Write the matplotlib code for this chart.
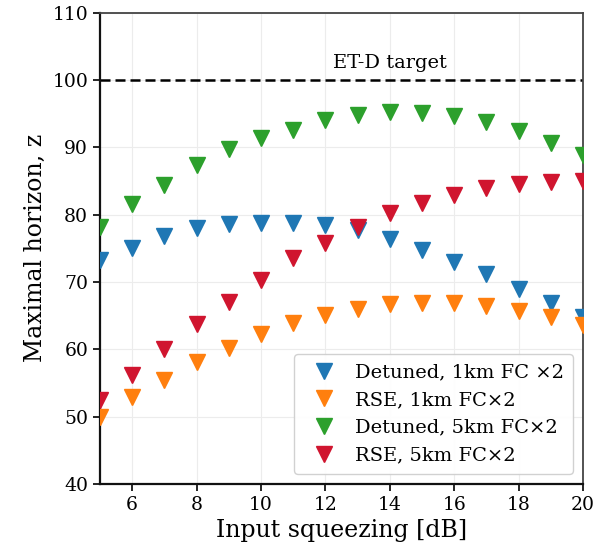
import matplotlib.pyplot as plt

plt.rcParams["font.family"] = ["DejaVu Serif"]

squeezing = list(range(5, 21))
detuned_1km = [73.2, 75.1, 76.9, 78.0, 78.6, 78.8, 78.8, 78.4, 77.7, 76.4, 74.8, 73.0, 71.2, 68.9, 66.9, 64.8]
rse_1km = [50.0, 52.9, 55.5, 58.1, 60.2, 62.3, 63.9, 65.1, 66.0, 66.7, 66.9, 66.9, 66.4, 65.7, 64.8, 63.6]
detuned_5km = [78.2, 81.6, 84.4, 87.4, 89.7, 91.4, 92.6, 94.0, 94.8, 95.2, 95.1, 94.6, 93.7, 92.4, 90.7, 88.8]
rse_5km = [52.5, 56.2, 60.1, 63.8, 67.1, 70.3, 73.5, 75.8, 78.2, 80.2, 81.7, 82.9, 84.0, 84.5, 84.9, 85.0]

series = [
    ("Detuned, 1km FC \u00d72", detuned_1km, "#1f77b4"),
    ("RSE, 1km FC\u00d72", rse_1km, "#ff7f0e"),
    ("Detuned, 5km FC\u00d72", detuned_5km, "#2ca02c"),
    ("RSE, 5km FC\u00d72", rse_5km, "#d0152f"),
]

target = 100

fig = plt.figure(figsize=(5.95, 5.5), dpi=100)
ax = fig.add_axes([0.168, 0.12, 0.812, 0.857])

for label, vals, col in series:
    ax.plot(squeezing, vals, linestyle="none", marker="v", markersize=12,
            color=col, label=label, zorder=3)

ax.axhline(target, color="black", linestyle=(0, (4, 2)), linewidth=1.8, zorder=2)
ax.text(14, 101.2, "ET-D target", ha="center", va="bottom", fontsize=14)

ax.set_xlim(5, 20)
ax.set_ylim(40, 110)
ax.set_xticks(range(6, 21, 2))
ax.set_yticks(range(40, 111, 10))
ax.tick_params(labelsize=13.5, length=5, width=1.2)
ax.grid(True, color="#ececec", linewidth=0.8, zorder=0)
ax.set_axisbelow(True)

ax.set_xlabel("Input squeezing [dB]", fontsize=17)
ax.set_ylabel("Maximal horizon, z", fontsize=17)

for side in ["left", "bottom"]:
    ax.spines[side].set_color("#111")
    ax.spines[side].set_linewidth(1.6)
for side in ["top", "right"]:
    ax.spines[side].set_color("#444")
    ax.spines[side].set_linewidth(1.3)

ax.legend(loc="lower right", fontsize=14, framealpha=0.9, edgecolor="#cccccc",
          handletextpad=0.6, borderpad=0.5, labelspacing=0.5,
          borderaxespad=0.5)

fig.savefig("out.png", dpi=100, facecolor="white")
